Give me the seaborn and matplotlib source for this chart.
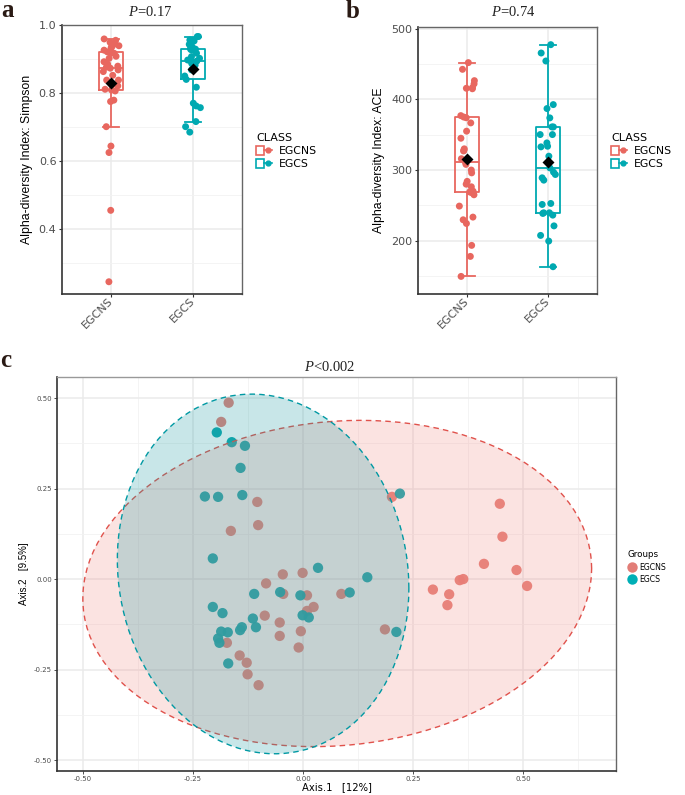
import numpy as np
import pandas as pd
import matplotlib
matplotlib.use('Agg')
import matplotlib.pyplot as plt
import seaborn as sns
from matplotlib.patches import Polygon, Patch
from matplotlib.lines import Line2D
from matplotlib.legend_handler import HandlerTuple
from matplotlib.ticker import MultipleLocator, FixedLocator, FormatStrFormatter

# ---- data ----
groups = ['EGCNS', 'EGCS']

simpson_egcns = [0.959, 0.955, 0.949, 0.944, 0.939, 0.936, 0.933, 0.926, 0.921, 0.919,
                 0.917, 0.908, 0.902, 0.892, 0.885, 0.879, 0.876, 0.873, 0.868, 0.863,
                 0.852, 0.838, 0.838, 0.824, 0.821, 0.811, 0.809, 0.806, 0.779, 0.775,
                 0.701, 0.644, 0.625, 0.455, 0.245]
simpson_egcs = [0.966, 0.966, 0.956, 0.953, 0.943, 0.936, 0.931, 0.929, 0.928, 0.926,
                0.917, 0.907, 0.902, 0.897, 0.894, 0.892, 0.887, 0.882, 0.877, 0.868,
                0.850, 0.840, 0.817, 0.770, 0.762, 0.757, 0.716, 0.701, 0.685]

ace_egcns = [452, 442.5, 426.5, 422, 416.6, 415.7, 415, 377, 375, 374, 366.7, 355, 345,
             330, 328, 327, 316, 311, 308, 300, 296, 284, 280, 276.3, 270, 269, 268, 265,
             249, 233.4, 229.6, 224.4, 193.4, 177.8, 149.5]
ace_egcs = [477.4, 465.6, 454.3, 392.6, 387, 373.8, 361, 361, 350.2, 350.2, 338.4, 333.7,
            332.8, 319.6, 303, 297, 293.7, 289, 285.7, 252.7, 251.3, 239.5, 239.5, 238.6,
            236.2, 221, 207.5, 199.5, 163.2]

pcoa_egcns_x = [-0.169, -0.186, -0.104, -0.102, -0.164, -0.046, -0.001, -0.084, -0.045, 0.009,
                0.024, -0.087, 0.009, -0.053, -0.005, -0.053, -0.173, -0.010, -0.144, -0.128,
                -0.126, -0.101, 0.087, 0.186, 0.411, 0.485, 0.356, 0.364, 0.295, 0.332,
                0.509, 0.328, 0.202, 0.447, 0.453]
pcoa_egcns_y = [0.487, 0.434, 0.213, 0.149, 0.133, 0.013, 0.017, -0.012, -0.041, -0.045,
                -0.077, -0.101, -0.088, -0.120, -0.144, -0.157, -0.176, -0.189, -0.211, -0.231,
                -0.263, -0.293, -0.041, -0.139, 0.042, 0.025, -0.003, 0.000, -0.029, -0.042,
                -0.019, -0.072, 0.227, 0.208, 0.117]
pcoa_egcs_x = [-0.196, -0.162, -0.132, -0.142, -0.223, -0.193, -0.138, -0.205, 0.034, -0.111,
               -0.052, -0.006, -0.205, -0.183, -0.001, 0.013, -0.114, -0.107, -0.139, -0.143,
               -0.186, -0.171, -0.193, -0.190, -0.170, 0.146, 0.106, 0.212, 0.220]
pcoa_egcs_y = [0.405, 0.378, 0.368, 0.307, 0.228, 0.227, 0.232, 0.057, 0.031, -0.041,
               -0.036, -0.045, -0.077, -0.094, -0.100, -0.106, -0.109, -0.133, -0.133, -0.141,
               -0.145, -0.147, -0.164, -0.176, -0.233, 0.005, -0.037, -0.146, 0.236]

p_labels = ['=0.17', '=0.74', '<0.002']

RED, TEAL = '#E8675F', '#00A9B1'
pal = {'EGCNS': RED, 'EGCS': TEAL}

W, H = 685, 795
plt.rcParams['font.family'] = ['Liberation Sans', 'DejaVu Sans']
plt.rcParams['mathtext.fontset'] = 'custom'
plt.rcParams['mathtext.it'] = 'Liberation Serif:italic'
plt.rcParams['mathtext.rm'] = 'Liberation Serif'


def px_box(left, top, right, bottom):
    return [left / W, 1 - bottom / H, (right - left) / W, (bottom - top) / H]


def style_axes(ax):
    ax.set_facecolor('white')
    ax.set_axisbelow(True)
    for side in ['top', 'right']:
        ax.spines[side].set_color('#666666')
        ax.spines[side].set_linewidth(1.0)
    for side in ['left', 'bottom']:
        ax.spines[side].set_color('#333333')
        ax.spines[side].set_linewidth(1.2)


def alpha_panel(ax, vals_a, vals_b, ylabel, ylim, major, minor):
    df = pd.DataFrame({'CLASS': ['EGCNS'] * len(vals_a) + ['EGCS'] * len(vals_b),
                       'value': vals_a + vals_b})
    sns.boxplot(data=df, x='CLASS', y='value', hue='CLASS', order=groups, palette=pal,
                fill=False, width=0.3, showfliers=False, linewidth=1.3, capwidths=0.2,
                legend=False, ax=ax)
    sns.stripplot(data=df, x='CLASS', y='value', hue='CLASS', order=groups, palette=pal,
                  jitter=0.1, size=5, legend=False, zorder=3, ax=ax)
    sns.pointplot(data=df, x='CLASS', y='value', order=groups, estimator='mean',
                  errorbar=None, color='black', markers='D', linestyle='none',
                  markersize=4.3, zorder=4, ax=ax)
    style_axes(ax)
    ax.set_xlim(-0.6, 1.6)
    ax.set_ylim(*ylim)
    ax.yaxis.set_major_locator(MultipleLocator(major))
    ax.yaxis.set_minor_locator(MultipleLocator(minor))
    ax.grid(axis='y', which='major', color='#EBEBEB', lw=1.1)
    ax.grid(axis='y', which='minor', color='#F2F2F2', lw=0.6)
    ax.grid(axis='x', which='major', color='#EBEBEB', lw=1.1)
    ax.tick_params(axis='both', which='major', length=2.5, width=0.8, color='#333333',
                   labelcolor='#4D4D4D', labelsize=8, labelfontfamily='DejaVu Sans', pad=1.5)
    ax.tick_params(axis='y', which='minor', length=0)
    ax.set_xticks([0, 1])
    ax.set_xticklabels(groups, rotation=45, ha='right', va='center', rotation_mode='anchor')
    ax.set_xlabel('')
    ax.set_ylabel(ylabel, fontsize=8.8, color='black')


np.random.seed(7)
fig = plt.figure(figsize=(W / 100, H / 100), dpi=100)

ax_a = fig.add_axes(px_box(62, 25, 242, 294))
alpha_panel(ax_a, simpson_egcns, simpson_egcs, 'Alpha-diversity Index: Simpson',
            (0.209, 1.0), 0.2, 0.1)
ax_a.yaxis.set_label_coords(-0.16, 0.5)

ax_b = fig.add_axes(px_box(418, 27, 597, 294))
alpha_panel(ax_b, ace_egcns, ace_egcs, 'Alpha-diversity Index: ACE',
            (124.6, 502.4), 100, 50)
ax_b.yaxis.set_label_coords(-0.185, 0.5)

# legends for the box panels
for x0 in [256, 611]:
    handles = [(Patch(facecolor='white', edgecolor=c, lw=1.2),
                Line2D([], [], color=c, lw=1.2, marker='o', markersize=3.5))
               for c in [RED, TEAL]]
    fig.legend(handles, groups, title='CLASS', loc='upper left',
               bbox_to_anchor=(x0 / W, 1 - 133 / H), frameon=False, borderpad=0,
               borderaxespad=0, handler_map={tuple: HandlerTuple(ndivide=None)},
               handlelength=1.5, handleheight=0.9, handletextpad=0.6, labelspacing=0.25,
               alignment='left', prop={'family': 'DejaVu Sans', 'size': 7.8},
               title_fontproperties={'family': 'DejaVu Sans', 'size': 8})

# ---- PCoA panel ----
ax_c = fig.add_axes(px_box(57, 377, 616, 771))
pc = pd.DataFrame({'Axis.1': pcoa_egcns_x + pcoa_egcs_x,
                   'Axis.2': pcoa_egcns_y + pcoa_egcs_y,
                   'Groups': ['EGCNS'] * len(pcoa_egcns_x) + ['EGCS'] * len(pcoa_egcs_x)})
sns.scatterplot(data=pc, x='Axis.1', y='Axis.2', hue='Groups', hue_order=groups,
                palette={'EGCNS': '#E57A72', 'EGCS': '#00A3AA'}, s=55, linewidth=0,
                alpha=0.95, legend=False, zorder=2, ax=ax_c)

# normal-theory 95% ellipses (like stat_ellipse(type = "norm"))
# F(0.95; 2, n-1) quantiles for n = 35 and n = 29
f_quant = {'EGCNS': 3.2759, 'EGCS': 3.3404}
fills = {'EGCNS': '#F28A84', 'EGCS': '#1A9AA0'}
edges = {'EGCNS': '#E0524C', 'EGCS': '#0099A3'}
theta = np.linspace(0, 2 * np.pi, 120)
circle = np.column_stack([np.cos(theta), np.sin(theta)])
for g in groups:
    sub = pc[pc['Groups'] == g][['Axis.1', 'Axis.2']].to_numpy()
    center = sub.mean(axis=0)
    cov = np.cov(sub.T)
    radius = np.sqrt(2 * f_quant[g])
    shape = center + radius * circle @ np.linalg.cholesky(cov).T
    ax_c.add_patch(Polygon(shape, closed=True, facecolor=fills[g], alpha=0.24,
                           edgecolor='none', zorder=3))
    ax_c.add_patch(Polygon(shape, closed=True, facecolor='none', edgecolor=edges[g],
                           lw=1.0, ls=(0, (4, 3)), zorder=3))

style_axes(ax_c)
ax_c.spines['top'].set_color('#999999')
ax_c.set_xlim(-0.559, 0.711)
ax_c.set_ylim(-0.53, 0.558)
ticks = [-0.5, -0.25, 0.0, 0.25, 0.5]
ax_c.xaxis.set_major_locator(FixedLocator(ticks))
ax_c.yaxis.set_major_locator(FixedLocator(ticks))
ax_c.xaxis.set_minor_locator(FixedLocator([-0.375, -0.125, 0.125, 0.375, 0.625]))
ax_c.yaxis.set_minor_locator(FixedLocator([-0.375, -0.125, 0.125, 0.375]))
ax_c.xaxis.set_major_formatter(FormatStrFormatter('%.2f'))
ax_c.yaxis.set_major_formatter(FormatStrFormatter('%.2f'))
ax_c.grid(which='major', color='#EBEBEB', lw=1.1)
ax_c.grid(which='minor', color='#F2F2F2', lw=0.6)
ax_c.tick_params(which='major', length=2, width=0.6, color='#333333', labelcolor='#4D4D4D',
                 labelsize=5, labelfontfamily='DejaVu Sans', pad=1.5)
ax_c.tick_params(which='minor', length=0)
ax_c.set_xlabel('Axis.1   [12%]', fontsize=7.2, family='DejaVu Sans')
ax_c.set_ylabel('Axis.2   [9.5%]', fontsize=7)
ax_c.xaxis.set_label_coords(0.5, -0.028)
ax_c.yaxis.set_label_coords(-0.05, 0.5)

handles_c = [Line2D([], [], marker='o', linestyle='', markersize=7.5, color=c, markeredgewidth=0)
             for c in ['#E27D77', '#00AFB6']]
fig.legend(handles_c, groups, title='Groups', loc='upper left',
           bbox_to_anchor=(627 / W, 1 - 550 / H), frameon=False, borderpad=0, borderaxespad=0,
           handletextpad=0.4, labelspacing=0.45, alignment='left', handlelength=1.2,
           prop={'family': 'DejaVu Sans', 'size': 5.6},
           title_fontproperties={'family': 'DejaVu Sans', 'size': 6.3})

# ---- titles and panel letters ----
for x, y, lab in [(150, 16, p_labels[0]), (513, 16, p_labels[1]), (330, 371, p_labels[2])]:
    fig.text(x / W, 1 - y / H, r'$P$' + lab, ha='center', va='baseline', fontsize=10.5,
             family='Liberation Serif', color='#222222')
for x, y, lab in [(1, 17, 'a'), (346, 18, 'b'), (0, 367, 'c')]:
    fig.text(x / W, 1 - y / H, lab, ha='left', va='baseline', fontsize=18,
             fontweight='bold', family='Liberation Serif', color='#2A1A14')

fig.savefig('out.png', dpi=100)
